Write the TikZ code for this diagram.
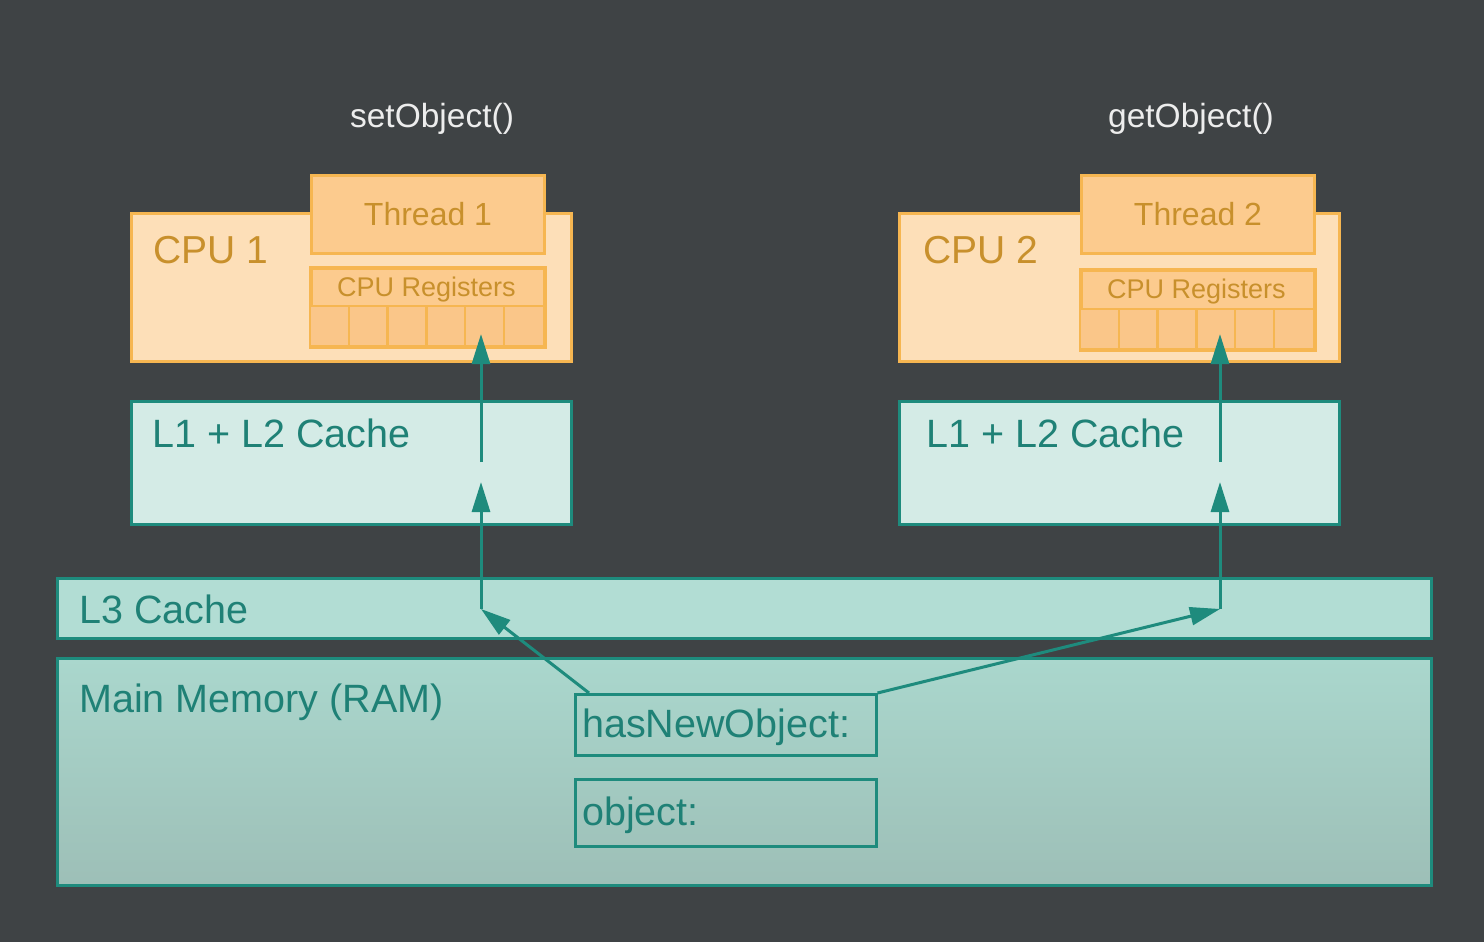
\documentclass[tikz,border=0pt]{standalone}
\usepackage{fontspec}
\setmainfont{Liberation Sans}
\usetikzlibrary{arrows.meta}

\definecolor{bgcol}{HTML}{3F4345}
\definecolor{cpuline}{HTML}{F6B651}
\definecolor{cpufill}{HTML}{FDDFB8}
\definecolor{threadfill}{HTML}{FCCB8E}
\definecolor{cellfill}{HTML}{FAC689}
\definecolor{cputext}{HTML}{C8902C}
\definecolor{tealline}{HTML}{1E8B7D}
\definecolor{tealtext}{HTML}{1F8176}
\definecolor{cachefill}{HTML}{D4EBE6}
\definecolor{lthreefill}{HTML}{B2DDD4}
\definecolor{ramtop}{HTML}{AAD7CD}
\definecolor{rambottom}{HTML}{9DBFB7}

\begin{document}
\begin{tikzpicture}[x=1pt, y=-1pt,
  box/.style={draw, line width=3pt, anchor=north west, inner sep=0pt},
  cpubox/.style={box, draw=cpuline, fill=cpufill},
  threadbox/.style={box, draw=cpuline, fill=threadfill, text=cputext,
    font=\fontsize{32}{37}\selectfont},
  cachebox/.style={box, draw=tealline, fill=cachefill},
  varbox/.style={box, draw=tealline, line width=2.5pt},
  title/.style={anchor=base, inner sep=0pt, text=white!93!black,
    font=\fontsize{33.5}{38}\selectfont},
  cpulabel/.style={anchor=base west, inner sep=0pt, text=cputext,
    font=\fontsize{39}{45}\selectfont},
  reglabel/.style={anchor=base, inner sep=0pt, text=cputext,
    font=\fontsize{27}{32}\selectfont},
  cachelabel/.style={anchor=base west, inner sep=0pt, text=tealtext,
    font=\fontsize{39.5}{45}\selectfont},
  flow/.style={draw=tealline, line width=3pt,
    -{Triangle[length=30pt, width=18pt]}}]

  \fill[bgcol] (0, 0) rectangle (1484, 942);
  \useasboundingbox (0, 0) rectangle (1484, 942);

  \node[title] (seta) at (432, 128) {setObject()};
  \node[title] (getb) at (1191, 128) {getObject()};

  \node[cpubox, minimum width=440pt, minimum height=148pt] (cpua) at (130, 212) {};
  \node[cpulabel] (cpualabel) at (153, 263) {CPU 1};
  \node[threadbox, minimum width=233pt, minimum height=78pt] (threada) at (310, 174) {Thread 1};
  \node[box, draw=cpuline, fill=threadfill, minimum width=233pt, minimum height=78pt] (rega) at (310, 267) {};
  \fill[cellfill] (310, 306) rectangle (543, 345);
  \draw[cpuline, line width=2.5pt] (rega.north west) rectangle (rega.south east);
  \draw[cpuline, line width=2.5pt] (310, 306) -- (543, 306);
  \foreach \i in {1,...,5}
    \draw[cpuline, line width=2.5pt] (310 + 38.8*\i, 306) -- (310 + 38.8*\i, 345);
  \node[reglabel] (regalabel) at (426.5, 296) {CPU Registers};

  \node[cpubox, minimum width=440pt, minimum height=148pt] (cpub) at (898, 212) {};
  \node[cpulabel] (cpublabel) at (923, 263) {CPU 2};
  \node[threadbox, minimum width=233pt, minimum height=78pt] (threadb) at (1080, 174) {Thread 2};
  \node[box, draw=cpuline, fill=threadfill, minimum width=233pt, minimum height=79pt] (regb) at (1080, 269) {};
  \fill[cellfill] (1080, 309) rectangle (1313, 348);
  \draw[cpuline, line width=2.5pt] (regb.north west) rectangle (regb.south east);
  \draw[cpuline, line width=2.5pt] (1080, 309) -- (1313, 309);
  \foreach \i in {1,...,5}
    \draw[cpuline, line width=2.5pt] (1080 + 38.8*\i, 309) -- (1080 + 38.8*\i, 348);
  \node[reglabel] (regblabel) at (1196.5, 298) {CPU Registers};

  \node[cachebox, minimum width=440pt, minimum height=123pt] (cachea) at (130, 400) {};
  \node[cachelabel] (cachealabel) at (152, 447) {L1 + L2 Cache};
  \node[cachebox, minimum width=440pt, minimum height=123pt] (cacheb) at (898, 400) {};
  \node[cachelabel] (cacheblabel) at (926, 447) {L1 + L2 Cache};

  \node[cachebox, fill=lthreefill, minimum width=1374pt, minimum height=60pt] (lthree) at (56, 577) {};
  \node[cachelabel] (lthreelabel) at (79, 623) {L3 Cache};

  \node[cachebox, top color=ramtop, bottom color=rambottom, minimum width=1374pt, minimum height=227pt] (ram) at (56, 657) {};
  \node[cachelabel] (ramlabel) at (79, 712) {Main Memory (RAM)};

  \node[varbox, minimum width=301pt, minimum height=61pt] (hasnew) at (574, 693) {};
  \node[cachelabel] (hasnewlabel) at (582, 737) {hasNewObject:};
  \node[varbox, minimum width=301pt, minimum height=67pt] (object) at (574, 778) {};
  \node[cachelabel] (objectlabel) at (582, 825) {object:};

  \coordinate (benda) at (481, 609);
  \coordinate (enda) at (481, 482);
  \coordinate (gapa) at (481, 462);
  \coordinate (tipa) at (481, 334);
  \coordinate (bendb) at (1220, 609);
  \coordinate (endb) at (1220, 482);
  \coordinate (gapb) at (1220, 462);
  \coordinate (tipb) at (1220, 334);

  \draw[flow] ([xshift=15pt]hasnew.north west) -- (benda);
  \draw[flow] (benda) -- (enda);
  \draw[flow] (gapa) -- (tipa);
  \draw[flow] (hasnew.north east) -- (bendb);
  \draw[flow] (bendb) -- (endb);
  \draw[flow] (gapb) -- (tipb);
\end{tikzpicture}
\end{document}
